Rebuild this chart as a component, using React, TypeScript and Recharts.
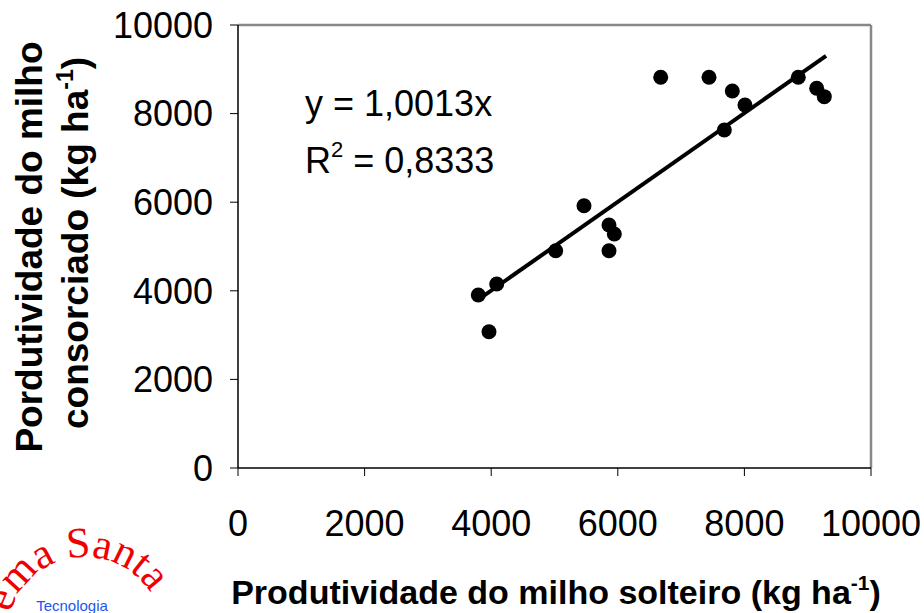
import React from 'react';
import {
  ScatterChart,
  Scatter,
  XAxis,
  YAxis,
  ReferenceLine,
} from 'recharts';

// Produtividade do milho solteiro (x) vs consorciado (y), kg/ha
const solteiro = [3796, 4087, 3965, 5019, 5466, 5861, 5945, 5861, 6678, 7441, 7809, 8009, 7683, 8851, 9142, 9262];
const consorciado = [3905, 4153, 3077, 4905, 5921, 5485, 5282, 4905, 8819, 8819, 8510, 8194, 7630, 8819, 8571, 8382];

const axisTicks = [0, 2000, 4000, 6000, 8000, 10000];
const slope = 1.0013;
const trendRange = [3796, 9290];

const points = solteiro.map((x, i) => ({ x, y: consorciado[i] }));
const trend = trendRange.map((x) => ({ x, y: x * slope }));

const FONT = '"Liberation Sans", Arial, sans-serif';

const Dot = (props: any) => <circle cx={props.cx} cy={props.cy} r={7.5} fill="#000" />;
const NoDot = () => <g />;

export default function App() {
  return (
    <div style={{ position: 'absolute', left: 0, top: 0, width: 924, height: 613, background: '#fff' }}>
      <ScatterChart
        width={924}
        height={613}
        margin={{ top: 25, right: 53, bottom: 95, left: 158 }}
      >
        <XAxis
          type="number"
          dataKey="x"
          domain={[0, 10000]}
          ticks={axisTicks}
          height={50}
          tickSize={8}
          tickMargin={34}
          axisLine={{ stroke: '#000', strokeWidth: 1.5 }}
          tickLine={{ stroke: '#000', strokeWidth: 1 }}
          tick={{ fill: '#000', fontSize: 36, fontFamily: FONT }}
          interval={0}
        />
        <YAxis
          type="number"
          dataKey="y"
          domain={[0, 10000]}
          ticks={axisTicks}
          width={80}
          tickSize={8}
          tickMargin={17}
          axisLine={{ stroke: '#000', strokeWidth: 1.5 }}
          tickLine={{ stroke: '#000', strokeWidth: 1 }}
          tick={{ fill: '#000', fontSize: 36, fontFamily: FONT }}
          interval={0}
        />
        <ReferenceLine y={10000} stroke="#888" strokeWidth={2.5} />
        <ReferenceLine x={10000} stroke="#888" strokeWidth={2.5} />
        <Scatter
          data={trend}
          line={{ stroke: '#000', strokeWidth: 4 }}
          lineType="joint"
          shape={NoDot}
          isAnimationActive={false}
        />
        <Scatter data={points} shape={Dot} isAnimationActive={false} />
      </ScatterChart>

      <svg
        width={924}
        height={613}
        style={{ position: 'absolute', left: 0, top: 0, pointerEvents: 'none' }}
      >
        <g fontFamily={FONT} fill="#000">
          <text x={305} y={116} fontSize={36}>y = 1,0013x</text>
          <text x={305} y={173} fontSize={36}>
            R<tspan fontSize={22} dy={-16}>2</tspan>
            <tspan dy={16}> = 0,8333</tspan>
          </text>

          <text
            x={42}
            y={247}
            fontSize={37}
            fontWeight="bold"
            textAnchor="middle"
            transform="rotate(-90 42 247)"
          >
            Pordutividade do milho
          </text>
          <text
            x={88}
            y={243}
            fontSize={37}
            fontWeight="bold"
            textAnchor="middle"
            transform="rotate(-90 88 243)"
          >
            consorciado (kg ha<tspan fontSize={23} dy={-15}>-1</tspan>
            <tspan dy={15}>)</tspan>
          </text>

          <text x={556} y={604} fontSize={34} fontWeight="bold" textAnchor="middle">
            Produtividade do milho solteiro (kg ha<tspan fontSize={21} dy={-14}>-1</tspan>
            <tspan dy={14}>)</tspan>
          </text>
        </g>

        {/* logo watermark, cut by the picture edge */}
        <defs>
          <path id="logoArc" d="M 7,635 A 78,78 0 0,1 163,635" />
        </defs>
        <text fontFamily='"Liberation Serif", "Times New Roman", serif' fontSize={43} fill="#f00000">
          <textPath href="#logoArc" startOffset={22}>ema Santa</textPath>
        </text>
        <text x={72} y={611} fontFamily={FONT} fontSize={15} fill="#2255ee" textAnchor="middle">
          Tecnologia
        </text>
      </svg>
    </div>
  );
}
